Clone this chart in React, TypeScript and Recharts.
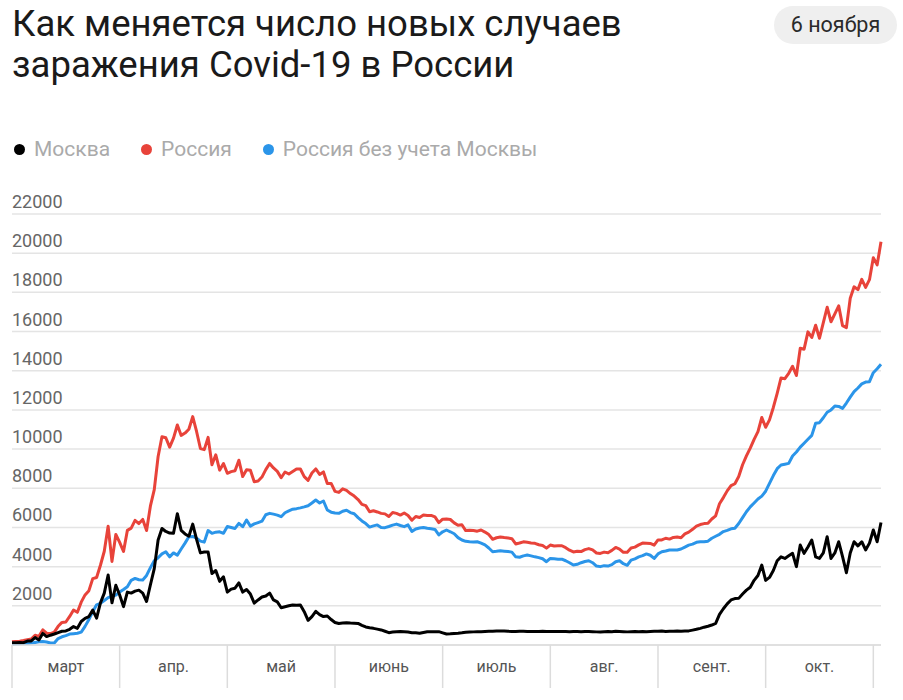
import { LineChart, Line, XAxis, YAxis, CartesianGrid } from 'recharts';

// Daily new cases, 25 March – 6 November
const russia = [
  163, 182, 196, 228, 270, 302, 500, 440, 771, 601,
  582, 658, 954, 1154, 1175, 1459, 1786, 1667, 2186, 2558,
  2774, 3388, 3448, 4070, 4785, 6060, 4268, 5642, 5236, 4774,
  5849, 5966, 6361, 6198, 6411, 5841, 7099, 7933, 9623, 10633,
  10581, 10102, 10559, 11231, 10699, 10817, 11012, 11656, 10899, 10028,
  9974, 10598, 9200, 9709, 8926, 9263, 8764, 8849, 8894, 9434,
  8599, 8946, 8915, 8338, 8371, 8572, 8952, 9268, 9035, 8863,
  8536, 8831, 8726, 8855, 8984, 8985, 8595, 8404, 8779, 8987,
  8706, 8835, 8246, 8248, 7843, 7790, 7972, 7889, 7728, 7600,
  7425, 7176, 7113, 6800, 6852, 6791, 6719, 6693, 6556, 6760,
  6718, 6632, 6736, 6611, 6368, 6562, 6509, 6635, 6611, 6615,
  6537, 6248, 6422, 6428, 6406, 6234, 6109, 6139, 5842, 5862,
  5848, 5811, 5871, 5765, 5635, 5395, 5475, 5509, 5482, 5462,
  5427, 5159, 5204, 5267, 5241, 5212, 5189, 5118, 5077, 4945,
  5102, 5057, 5061, 5065, 4969, 4839, 4748, 4790, 4767, 4870,
  4921, 4852, 4696, 4676, 4741, 4711, 4829, 4980, 4897, 4729,
  4729, 4952, 4995, 5110, 5205, 5195, 5185, 5099, 5363, 5363,
  5449, 5406, 5488, 5509, 5474, 5670, 5762, 5905, 6065, 6148,
  6196, 6215, 6431, 6595, 7212, 7523, 7867, 8135, 8232, 8600,
  9200, 9650, 10050, 10499, 10888, 11615, 11115, 11493, 12126, 12846,
  13634, 13592, 13868, 14231, 13754, 15150, 15099, 15982, 15700, 16319,
  15660, 16450, 17240, 16500, 16900, 17310, 16300, 16200, 17700, 18283,
  18140, 18665, 18257, 18648, 19768, 19404, 20582,
];

const moscow = [
  110, 110, 130, 120, 200, 210, 380, 260, 590, 430,
  500, 560, 630, 700, 720, 800, 940, 850, 1200, 1360,
  1450, 1780, 1370, 2150, 2650, 3570, 2151, 3050, 2550, 1959,
  2700, 2650, 2750, 2800, 2650, 2220, 3075, 3900, 5358, 5948,
  5795, 5714, 5700, 6703, 5846, 5667, 5550, 6169, 5392, 4703,
  4748, 4749, 3650, 3800, 3250, 3480, 2700, 2850, 2900, 3170,
  2700, 2830, 2600, 2140, 2300, 2450, 2500, 2650, 2300, 2200,
  1900, 1950, 2000, 2040, 2030, 2040, 1700, 1260, 1450, 1720,
  1550, 1450, 1480, 1300, 1150, 1100, 1120, 1140, 1120, 1110,
  1100, 1000, 920, 880, 850, 810, 770, 700, 630, 660,
  680, 690, 680, 660, 630, 620, 600, 640, 680, 680,
  680, 680, 620, 560, 570, 590, 600, 620, 650, 660,
  670, 680, 680, 690, 700, 700, 710, 720, 715, 700,
  695, 690, 700, 700, 695, 690, 690, 695, 700, 695,
  690, 690, 690, 690, 685, 680, 690, 690, 680, 690,
  690, 680, 670, 660, 680, 690, 680, 700, 690, 680,
  670, 680, 690, 680, 690, 680, 690, 700, 700, 710,
  690, 700, 700, 710, 700, 710, 720, 760, 800, 850,
  910, 960, 1020, 1100, 1560, 1850, 2100, 2300, 2370, 2380,
  2600, 2800, 2950, 3300, 3550, 4080, 3300, 3450, 3800, 4300,
  4500, 4420, 4550, 4680, 4000, 5100, 4680, 5000, 5360, 4500,
  4420, 4700, 5530, 4420, 4700, 5270, 4510, 3690, 4700, 5270,
  5060, 5270, 4850, 5200, 5870, 5270, 6253,
];

const russiaExMoscow = [
  50, 60, 70, 100, 80, 100, 130, 160, 180, 150,
  100, 100, 330, 420, 480, 560, 580, 600, 660, 950,
  1300, 1700, 2050, 2130, 2270, 2420, 2490, 2550, 2700, 2830,
  2970, 3300, 3400, 3330, 3320, 3550, 3950, 4300, 4450, 4650,
  4760, 4500, 4700, 4590, 4900, 5200, 5530, 5540, 5450, 5300,
  5250, 5840, 5700, 5760, 5780, 5700, 6050, 6000, 5950, 6210,
  6040, 6380, 6070, 6180, 6250, 6320, 6650, 6720, 6680, 6630,
  6550, 6750, 6850, 6930, 6960, 7000, 7050, 7110, 7250, 7400,
  7250, 7350, 6890, 6780, 6740, 6720, 6830, 6880, 6760, 6700,
  6500, 6330, 6200, 6020, 6080, 6130, 6000, 5990, 6050, 6120,
  6170, 6100, 6040, 6130, 5800, 5920, 5970, 6000, 5960, 5930,
  5900, 5620, 5780, 5870, 5780, 5680, 5480, 5360, 5290, 5270,
  5260, 5270, 5200, 5110, 4950, 4760, 4780, 4810, 4790, 4770,
  4740, 4500, 4480, 4550, 4590, 4550, 4500, 4460, 4400, 4250,
  4420, 4400, 4380, 4380, 4300, 4200, 4080, 4120, 4200, 4260,
  4300, 4200, 4030, 4000, 4050, 4030, 4100, 4250, 4300, 4150,
  4070, 4330, 4400, 4500, 4560, 4650, 4580, 4420, 4650, 4760,
  4800, 4850, 4850, 4850, 4900, 5000, 5100, 5150, 5240, 5270,
  5270, 5300, 5450, 5550, 5650, 5790, 5850, 5930, 5960, 6200,
  6500, 6800, 7050, 7250, 7450, 7600, 7850, 8250, 8650, 9000,
  9190, 9230, 9270, 9650, 9850, 10100, 10300, 10500, 10700, 11320,
  11350, 11600, 11880, 12000, 12200, 12180, 12080, 12350, 12650, 12930,
  13120, 13330, 13420, 13440, 13900, 14100, 14329,
];

const monthLabels = ['март', 'апр.', 'май', 'июнь', 'июль', 'авг.', 'сент.', 'окт.'];
const yTicks = [0, 2000, 4000, 6000, 8000, 10000, 12000, 14000, 16000, 18000, 20000, 22000];

const legendItems = [
  { name: 'Москва', color: '#000000' },
  { name: 'Россия', color: '#e8433a' },
  { name: 'Россия без учета Москвы', color: '#2b95e9' },
];

// each month band on the axis is 28 days wide
const BAND = 28;
const bandTicks = monthLabels.flatMap((_, i) => [i * BAND, i * BAND + BAND / 2]).concat(monthLabels.length * BAND);

const data = russia.map((v, i) => ({
  day: i,
  russia: v,
  moscow: moscow[i],
  rest: russiaExMoscow[i],
}));

const FONT = 'Roboto, "Noto Sans", sans-serif';

function MonthTick(props: any) {
  const { x, y, payload } = props;
  const v = payload.value;
  if (v % BAND === 0) {
    return <line x1={x} x2={x} y1={y} y2={y + 43} stroke="#dcdcdc" strokeWidth={1.5} />;
  }
  return (
    <text x={x} y={y + 27} textAnchor="middle" fontSize={16} fill="#555" fontFamily={FONT}>
      {monthLabels[(v - BAND / 2) / BAND]}
    </text>
  );
}

function ValueTick(props: any) {
  const { y, payload } = props;
  if (payload.value === 0) return <g />;
  return (
    <text x={12} y={y - 6} fontSize={18} fill="#666" fontFamily={FONT}>
      {payload.value}
    </text>
  );
}

export default function App() {
  return (
    <div style={{ position: 'absolute', left: 0, top: 0, width: 903, height: 700, background: '#fff', fontFamily: FONT }}>
      <div style={{ position: 'absolute', left: 12, top: 3, fontSize: 36.5, lineHeight: '41px', color: '#1a1a1a' }}>
        Как меняется число новых случаев
        <br />
        заражения Covid-19 в России
      </div>
      <div
        style={{
          position: 'absolute',
          left: 774,
          top: 6,
          width: 123,
          height: 38,
          borderRadius: 19,
          background: '#efefef',
          color: '#2a2a2a',
          fontSize: 21.5,
          lineHeight: '38px',
          textAlign: 'center',
        }}
      >
        6 ноября
      </div>
      <div
        style={{
          position: 'absolute',
          left: 14,
          top: 137,
          display: 'flex',
          gap: 31,
          fontSize: 21,
          lineHeight: '24px',
          color: '#aaa',
        }}
      >
        {legendItems.map((it) => (
          <div key={it.name} style={{ display: 'flex', alignItems: 'center', gap: 9 }}>
            <span style={{ width: 11, height: 11, borderRadius: '50%', background: it.color, display: 'inline-block' }} />
            <span>{it.name}</span>
          </div>
        ))}
      </div>
      <div style={{ position: 'absolute', left: 0, top: 0 }}>
        <LineChart width={903} height={700} data={data} margin={{ top: 214, right: 22, bottom: 0, left: 11 }}>
          <CartesianGrid vertical={false} stroke="#e4e4e4" strokeWidth={1.5} />
          <XAxis
            dataKey="day"
            type="number"
            domain={[0, russia.length - 1]}
            ticks={bandTicks}
            interval={0}
            height={55}
            tickSize={0}
            tickMargin={0}
            tickLine={false}
            axisLine={{ stroke: '#dcdcdc', strokeWidth: 1.5 }}
            tick={<MonthTick />}
          />
          <YAxis
            width={1}
            domain={[0, 22000]}
            ticks={yTicks}
            interval={0}
            axisLine={false}
            tickLine={false}
            tick={<ValueTick />}
          />
          <Line type="linear" dataKey="rest" stroke="#2b95e9" strokeWidth={3} dot={false} strokeLinejoin="round" isAnimationActive={false} />
          <Line type="linear" dataKey="russia" stroke="#e8433a" strokeWidth={3} dot={false} strokeLinejoin="round" isAnimationActive={false} />
          <Line type="linear" dataKey="moscow" stroke="#000000" strokeWidth={3} dot={false} strokeLinejoin="round" isAnimationActive={false} />
        </LineChart>
      </div>
    </div>
  );
}
